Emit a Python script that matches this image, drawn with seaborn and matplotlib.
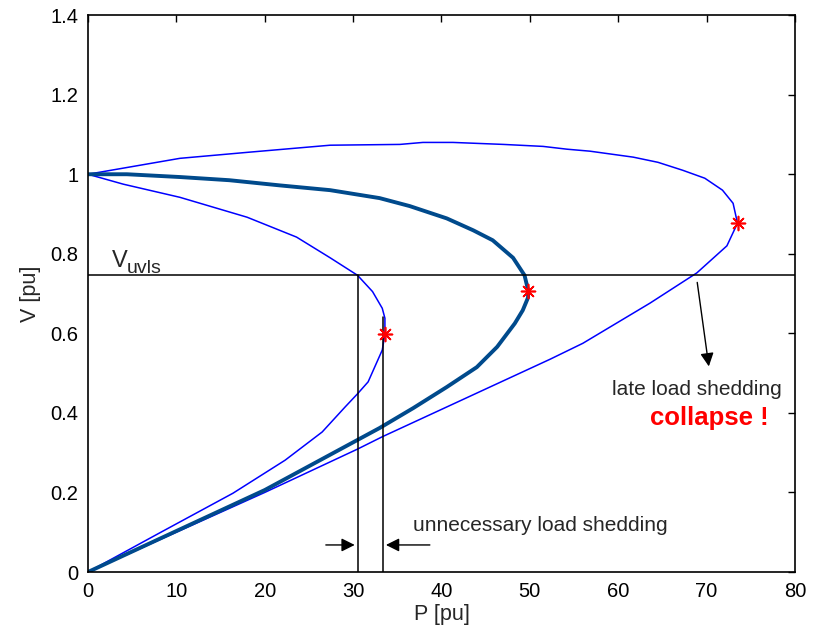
import matplotlib
matplotlib.use("Agg")
import matplotlib.pyplot as plt
import seaborn as sns

# ---- data ----
P_inner = [0, 4, 10.4, 18, 23.6, 27.4, 30.5, 32.2, 33.3, 33.6, 33.6, 33.3, 32.8, 31.7, 30.5, 29.1, 26.5, 22.3, 16.4, 8, 0]
V_inner = [1.0, 0.975, 0.942, 0.892, 0.842, 0.79, 0.746, 0.705, 0.663, 0.638, 0.598, 0.558, 0.533, 0.478, 0.448, 0.415, 0.352, 0.281, 0.198, 0.097, 0]

P_mid = [0, 4.4, 10.4, 16, 21.7, 27.4, 33, 36.4, 40.6, 43.6, 45.8, 48.1, 49.4, 49.8, 49.8, 49.2, 48.3, 46.3, 44, 40.6, 36.8, 33, 30.5, 20, 10, 0]
V_mid = [1.0, 1.0, 0.993, 0.985, 0.972, 0.96, 0.94, 0.92, 0.889, 0.859, 0.834, 0.79, 0.746, 0.709, 0.69, 0.658, 0.625, 0.566, 0.515, 0.465, 0.412, 0.362, 0.332, 0.206, 0.103, 0]

P_outer = [0, 10.4, 18, 27.4, 35.3, 37.9, 41.3, 47, 51.5, 54.2, 56.8, 61.7, 64.5, 67.3, 69.8, 71.8, 73.0, 73.5, 72.3, 68.9, 63.6, 56, 52.3, 33.3, 30.5, 20, 10, 0]
V_outer = [1.0, 1.04, 1.055, 1.073, 1.075, 1.08, 1.08, 1.075, 1.07, 1.063, 1.058, 1.043, 1.03, 1.01, 0.99, 0.96, 0.927, 0.877, 0.82, 0.752, 0.676, 0.575, 0.535, 0.34, 0.309, 0.2, 0.1, 0]

P_nose = [33.6, 49.8, 73.5]
V_nose = [0.598, 0.706, 0.877]

V_uvls = 0.746
P_cross_inner = 30.5
P_cross_right = 33.4
V_right_top = 0.64

x_ticks = [0, 10, 20, 30, 40, 50, 60, 70, 80]
y_ticks = [0, 0.2, 0.4, 0.6, 0.8, 1.0, 1.2, 1.4]
y_tick_labels = ["0", "0.2", "0.4", "0.6", "0.8", "1", "1.2", "1.4"]

# ---- style ----
sns.set_style("white")
plt.rcParams['font.family'] = ['Liberation Sans', 'DejaVu Sans']

fig = plt.figure(figsize=(8.17, 6.31), dpi=100)
ax = fig.add_axes([0.1077, 0.0935, 0.8653, 0.8825])

thin = "#0000FF"
thick = "#004A8C"

sns.lineplot(x=P_inner, y=V_inner, sort=False, estimator=None, color=thin, lw=1.1, ax=ax)
sns.lineplot(x=P_outer, y=V_outer, sort=False, estimator=None, color=thin, lw=1.1, ax=ax)
sns.lineplot(x=P_mid, y=V_mid, sort=False, estimator=None, color=thick, lw=2.8, ax=ax)

sns.scatterplot(x=P_nose, y=V_nose, marker=(8, 2, 0), s=100, color="red",
                linewidth=1.2, edgecolor="red", ax=ax, zorder=5)

# threshold line and verticals
ax.axhline(V_uvls, color="black", lw=1.1)
ax.plot([P_cross_inner, P_cross_inner], [0, V_uvls], color="black", lw=1.1)
ax.plot([P_cross_right, P_cross_right], [0, V_right_top], color="black", lw=1.1)

ax.text(2.7, 0.766, "V", fontsize=17, ha="left", va="baseline")
ax.text(4.4, 0.751, "uvls", fontsize=14, ha="left", va="baseline")

# unnecessary load shedding arrows
ay = 0.068
ax.annotate("", xy=(P_cross_inner, ay), xytext=(26.6, ay),
            arrowprops=dict(arrowstyle="-|>", color="black", lw=1.0, mutation_scale=20))
ax.annotate("", xy=(P_cross_right, ay), xytext=(39.0, ay),
            arrowprops=dict(arrowstyle="-|>", color="black", lw=1.0, mutation_scale=20))
ax.text(36.8, 0.118, "unnecessary load shedding", fontsize=15, ha="left", va="center")

# late load shedding
ax.annotate("", xy=(70.3, 0.51), xytext=(68.9, 0.735),
            arrowprops=dict(arrowstyle="-|>", color="black", lw=1.0, mutation_scale=20))
ax.text(59.3, 0.458, "late load shedding", fontsize=15, ha="left", va="center")
ax.text(63.6, 0.387, "collapse !", fontsize=18.5, fontweight="bold", color="red",
        ha="left", va="center")

ax.set_xlim(0, 80)
ax.set_ylim(0, 1.4)
ax.set_xticks(x_ticks)
ax.set_xticklabels([str(t) for t in x_ticks])
ax.set_yticks(y_ticks)
ax.set_yticklabels(y_tick_labels)
ax.tick_params(direction="in", length=5, width=1, top=True, right=True,
               labelsize=14.5, colors="black", pad=7)
for s in ax.spines.values():
    s.set_color("black")
    s.set_linewidth(1.2)
ax.set_xlabel("P [pu]", fontsize=15.5, labelpad=2)
ax.set_ylabel("V [pu]", fontsize=15.5, labelpad=7)

fig.savefig("out.png", dpi=100)
